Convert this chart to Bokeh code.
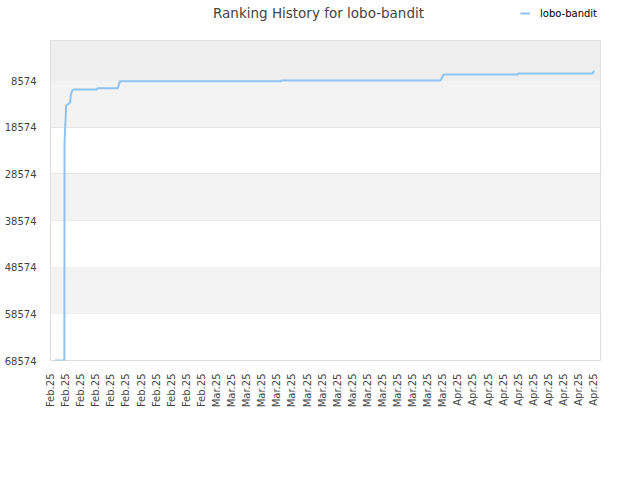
from bokeh.plotting import figure
from bokeh.layouts import column
from bokeh.models import Range1d, FixedTicker, BoxAnnotation, Legend, LegendItem, BasicTickFormatter, Label
from bokeh.embed import file_html
from bokeh.resources import INLINE
import math

# ---- data ----
title_text = "Ranking History for lobo-bandit"
series_name = "lobo-bandit"
x_labels = ["Feb.25"] * 11 + ["Mar.25"] * 16 + ["Apr.25"] * 10
y_ticks = [8574, 18574, 28574, 38574, 48574, 58574, 68574]

# position (in tick-label index units) and rank
pos = [0.30, 0.92, 0.93, 0.97, 1.00, 1.03, 1.30, 1.35, 1.45, 1.55, 3.05, 3.10,
       4.45, 4.60, 15.25, 15.30, 25.85, 26.05, 30.95, 31.00, 35.93, 36.02]
rank = [68574, 68574, 22000, 18600, 17100, 14000, 13300, 11500, 10700, 10500, 10500, 10250,
        10250, 8750, 8750, 8560, 8560, 7300, 7300, 7080, 7080, 6450]

FONT = "DejaVu Sans"
LINE_COLOR = "#8ec3f2"

# ---- header strip (title + legend); its frame is aligned with the chart frame ----
W, HEAD_H = 632, 40
head = figure(width=W, height=HEAD_H, output_backend="svg", toolbar_location=None,
              x_range=Range1d(50, 600), y_range=Range1d(HEAD_H, 0),
              x_axis_type=None, y_axis_type=None,
              min_border_left=0, min_border_right=0, min_border_top=0, min_border_bottom=0)
head.outline_line_color = None
head.grid.grid_line_color = None
head.background_fill_color = "white"
head.border_fill_color = "white"
head.add_layout(Label(x=318, y=12, text=title_text, text_align="center", text_baseline="middle",
                      text_font=FONT, text_font_size="13.5px", text_color="#444444"))
key = head.line(x=[0, 1], y=[0, 0], line_color=LINE_COLOR, line_width=2)
legend = Legend(items=[LegendItem(label=series_name, renderers=[key])],
                location=(470, 21), orientation="horizontal",
                padding=0, margin=0, spacing=0, glyph_width=10, glyph_height=12,
                label_height=12, label_standoff=10, border_line_color=None,
                background_fill_alpha=0, label_text_font=FONT, label_text_font_size="10px",
                label_text_color="#000000")
head.add_layout(legend, "center")

# ---- main chart ----
p = figure(width=W, height=432,
           output_backend="svg", toolbar_location=None,
           x_range=Range1d(0, 36.45), y_range=Range1d(68574, 1),
           min_border_left=50, min_border_right=32, min_border_top=0, min_border_bottom=112)

p.background_fill_color = "white"
p.border_fill_color = "white"
p.outline_line_color = "#dddddd"

# bands
p.add_layout(BoxAnnotation(top=1, bottom=8574, fill_color="#eeeeee", fill_alpha=1, line_alpha=0, level="underlay"))
for lo, hi in [(8574, 18574), (28574, 38574), (48574, 58574)]:
    p.add_layout(BoxAnnotation(top=lo, bottom=hi, fill_color="#f3f3f3", fill_alpha=1, line_alpha=0, level="underlay"))

r = p.line(pos, rank, line_color=LINE_COLOR, line_width=2)

# axes
p.xaxis.ticker = FixedTicker(ticks=list(range(len(x_labels))))
p.xaxis.major_label_overrides = {i: s for i, s in enumerate(x_labels)}
p.xaxis.major_label_orientation = math.pi / 2
p.yaxis.ticker = FixedTicker(ticks=y_ticks)
p.yaxis.formatter = BasicTickFormatter(use_scientific=False)
for ax in (p.xaxis[0], p.yaxis[0]):
    ax.axis_line_color = None
    ax.major_tick_line_color = None
    ax.minor_tick_line_color = None
    ax.major_label_text_font = FONT
    ax.major_label_text_font_size = "10px"
    ax.major_label_text_color = "#444444"
p.xaxis.major_label_standoff = 7
p.yaxis.major_label_standoff = 8

p.xgrid.grid_line_color = None
p.ygrid.grid_line_color = "#e2e2e2"
p.ygrid.level = "underlay"

layout = column(head, p, spacing=0)
open("out.html", "w").write(file_html(layout, INLINE))
